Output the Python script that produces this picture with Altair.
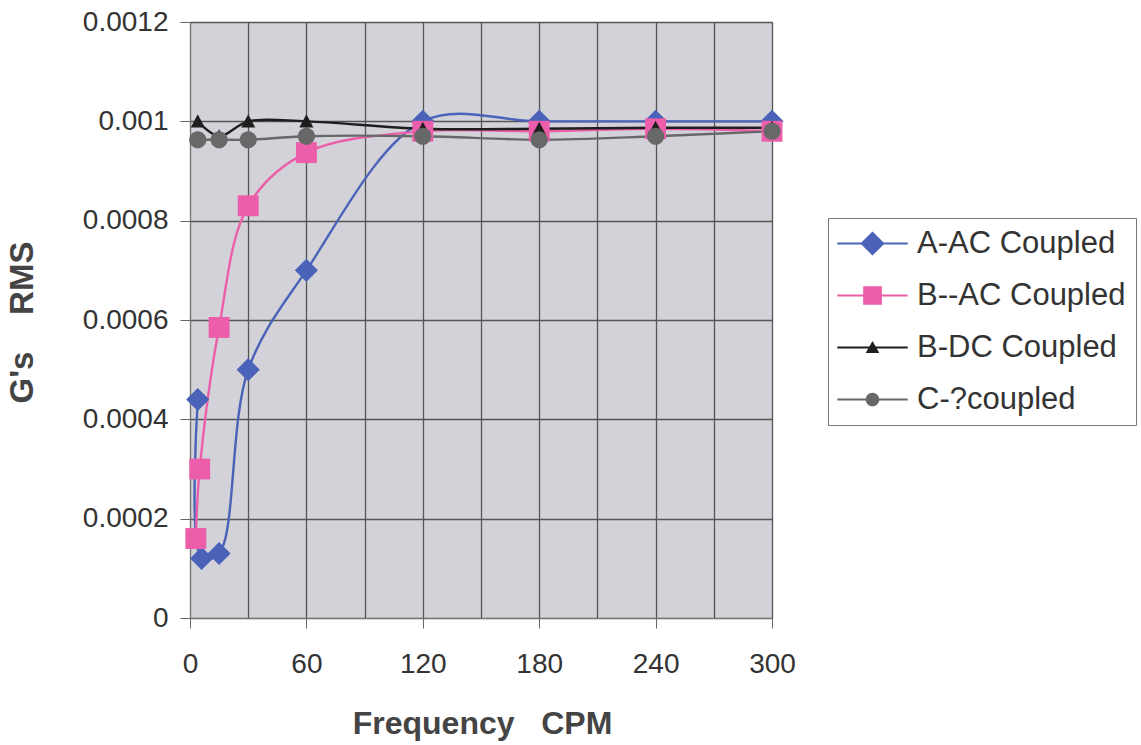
import altair as alt
import pandas as pd

series = ["A-AC Coupled", "B--AC Coupled", "B-DC Coupled", "C-?coupled"]
colors = ["#4a62b8", "#ec5eaa", "#1e1e1e", "#686868"]

a_x = [4, 6, 15, 30, 60, 120, 180, 240, 300]
a_y = [0.00044, 0.00012, 0.00013, 0.0005, 0.0007, 0.001, 0.001, 0.001, 0.001]
b_x = [3, 5, 15, 30, 60, 120, 180, 240, 300]
b_y = [0.00016, 0.0003, 0.000585, 0.00083, 0.000937, 0.00098, 0.00098, 0.000985, 0.00098]
c_x = [4, 15, 30, 60, 120, 180, 240, 300]
c_y = [0.001, 0.00097, 0.001, 0.001, 0.000985, 0.000985, 0.000987, 0.000987]
d_x = [4, 15, 30, 60, 120, 180, 240, 300]
d_y = [0.000963, 0.000963, 0.000963, 0.00097, 0.00097, 0.000963, 0.00097, 0.00098]

x_ticks = [0, 60, 120, 180, 240, 300]
x_minor = [30, 90, 150, 210, 270]
y_ticks = [0, 0.0002, 0.0004, 0.0006, 0.0008, 0.001, 0.0012]

rows = []
for name, xs, ys in zip(series, [a_x, b_x, c_x, d_x], [a_y, b_y, c_y, d_y]):
    for xv, yv in zip(xs, ys):
        rows.append({"series": name, "x": xv, "y": yv})
df = pd.DataFrame(rows)

# marker shapes (unit = 11 px at size 484)
plot_shapes = [
    "M0,-1.05L1.05,0L0,1.05L-1.05,0Z",
    "M-0.95,-0.95H0.95V0.95H-0.95Z",
    "M0,-0.64L0.64,0.56L-0.64,0.56Z",
    "M0.78,0A0.78,0.78,0,1,1,-0.78,0A0.78,0.78,0,1,1,0.78,0Z",
]
seg = "M-3.2,-0.1H3.2V0.1H-3.2Z"
legend_shapes = [
    seg + "M0,-1.1L1.1,0L0,1.1L-1.1,0Z",
    seg + "M-0.85,-0.85H0.85V0.85H-0.85Z",
    seg + "M0,-0.6L0.62,0.5L-0.62,0.5Z",
    seg + "M0.62,0A0.62,0.62,0,1,1,-0.62,0A0.62,0.62,0,1,1,0.62,0Z",
]

FONT = "Liberation Sans"

x_scale = alt.Scale(domain=[0, 300], nice=False, zero=False)
y_scale = alt.Scale(domain=[0, 0.0012], nice=False)

y_axis = alt.Axis(
    values=y_ticks, format=".2~g", grid=True, gridColor="#555555", gridWidth=1.3,
    tickSize=10, tickColor="#666666", labelPadding=12, labelFontSize=28,
    labelFont=FONT, labelColor="#333333", domainColor="#777777", labelFlush=False,
    title="G's \u00a0\u00a0 RMS", titleFont=FONT, titleFontSize=33, titleFontWeight="bold",
    titleColor="#444444", titleX=-168, titleY=300, titleAngle=270,
    titleAlign="center", titleBaseline="middle",
)
x_axis_main = alt.Axis(
    values=x_ticks, grid=True, gridColor="#555555", gridWidth=1.3,
    tickSize=10, tickColor="#666666", labelPadding=22, labelFontSize=28,
    labelFont=FONT, labelColor="#333333", domainColor="#777777", orient="bottom",
    labelFlush=False,
    title="Frequency \u00a0 CPM", titleFont=FONT, titleFontSize=32,
    titleFontWeight="bold", titleColor="#444444", titleX=292, titleY=115,
    titleAlign="center", titleBaseline="alphabetic",
)
x_axis_minor = alt.Axis(
    values=x_minor, grid=True, gridColor="#555555", gridWidth=1.3,
    ticks=False, labels=False, domain=False, orient="top", title=None,
)

color_scale = alt.Scale(domain=series, range=colors)

lines = alt.Chart(df).mark_line(interpolate="catmull-rom", strokeWidth=2.4).encode(
    x=alt.X("x:Q", scale=x_scale, axis=x_axis_main),
    y=alt.Y("y:Q", scale=y_scale, axis=y_axis),
    color=alt.Color("series:N", scale=color_scale, legend=None),
    detail="series:N",
)

points = alt.Chart(df).mark_point(filled=True, size=484, opacity=1).encode(
    x=alt.X("x:Q", scale=x_scale, axis=x_axis_minor),
    y=alt.Y("y:Q", scale=y_scale, axis=y_axis),
    color=alt.Color("series:N", scale=color_scale, legend=None),
    shape=alt.Shape("series:N", scale=alt.Scale(domain=series, range=plot_shapes), legend=None),
)

legend_layer = alt.Chart(df).transform_filter("datum.x < -1000").mark_point(
    filled=True, size=484, opacity=1
).encode(
    x=alt.X("x:Q", scale=x_scale, axis=None),
    y=alt.Y("y:Q", scale=y_scale, axis=y_axis),
    color=alt.Color("series:N", scale=color_scale, legend=alt.Legend(title=None)),
    shape=alt.Shape(
        "series:N", scale=alt.Scale(domain=series, range=legend_shapes),
        legend=alt.Legend(
            title=None, orient="none", legendX=638, legendY=196, padding=10,
            strokeColor="#777777", fillColor="white", symbolSize=484,
            symbolOffset=19, labelOffset=29, rowPadding=20, labelFontSize=31,
            labelFont=FONT, labelColor="#333333", labelLimit=400,
        ),
    ),
)

chart = alt.layer(lines, points, legend_layer).resolve_scale(
    color="independent", shape="independent"
).resolve_axis(x="independent").resolve_legend(
    color="independent", shape="independent"
).properties(
    width=582, height=596,
    autosize=alt.AutoSizeParams(type="none"),
    padding={"left": 190, "top": 22, "right": 369, "bottom": 127},
    background="white",
).configure_view(fill="#d3d2d9", stroke="#666666")

chart.save("out.html", embed_options={"renderer": "svg", "actions": False})
